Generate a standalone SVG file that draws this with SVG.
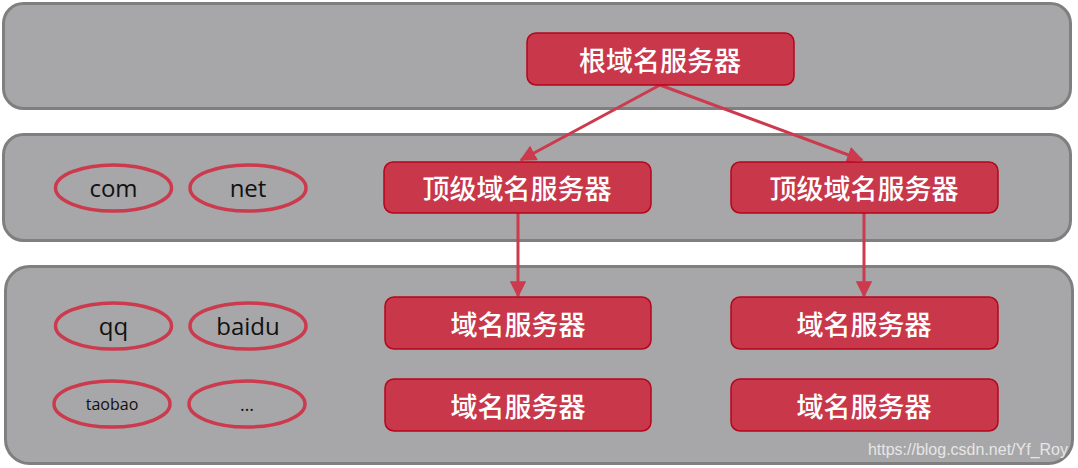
<svg xmlns="http://www.w3.org/2000/svg" width="1078" height="468" viewBox="0 0 1078 468">
<defs>
<style>
.panel{fill:#a7a6a8;stroke:#7f7f7f;stroke-width:3}
.box{fill:#c9374a;stroke:#b5061c;stroke-width:1.5}
.bt{fill:#ffffff;font-family:"Noto Sans CJK SC",sans-serif;font-size:27px;font-weight:500;text-anchor:middle;dominant-baseline:central}
.el{fill:none;stroke:#cc3a4e;stroke-width:3.5}
.et{fill:#111111;font-family:"Open Sans","Noto Sans",sans-serif;font-size:24px;text-anchor:middle;dominant-baseline:central}
.conn{stroke:#cc3a4e;stroke-width:3;fill:none}
</style>
<marker id="ah" viewBox="0 0 10 10" refX="9" refY="5" markerWidth="5.5" markerHeight="5.5" orient="auto" markerUnits="strokeWidth">
<path d="M0,0 L10,5 L0,10 z" fill="#cc3a4e"/>
</marker>
</defs>
<rect width="1078" height="468" fill="#ffffff"/>
<g id="panel-root"><rect class="panel" x="3.5" y="3.5" width="1067" height="105" rx="20"/></g>
<g id="panel-tld"><rect class="panel" x="3.5" y="134.5" width="1067" height="106" rx="20"/></g>
<g id="panel-domain"><rect class="panel" x="5.5" y="266.5" width="1067" height="197" rx="24"/></g>

<g id="connectors">
<line class="conn" x1="660" y1="85" x2="521" y2="160" marker-end="url(#ah)"/>
<line class="conn" x1="660" y1="85" x2="862" y2="160" marker-end="url(#ah)"/>
<line class="conn" x1="518" y1="213" x2="518" y2="296" marker-end="url(#ah)"/>
<line class="conn" x1="864" y1="213" x2="864" y2="296" marker-end="url(#ah)"/>
</g>

<g id="root"><rect class="box" x="527" y="33" width="267" height="52" rx="9"/><text class="bt" x="660" y="59">根域名服务器</text></g>
<g id="tld1"><rect class="box" x="384" y="162" width="267" height="51" rx="9"/><text class="bt" x="517" y="187.5">顶级域名服务器</text></g>
<g id="tld2"><rect class="box" x="731" y="162" width="267" height="51" rx="9"/><text class="bt" x="864" y="187.5">顶级域名服务器</text></g>
<g id="dns1"><rect class="box" x="385" y="297" width="266" height="52" rx="9"/><text class="bt" x="518" y="323">域名服务器</text></g>
<g id="dns2"><rect class="box" x="731" y="297" width="267" height="52" rx="9"/><text class="bt" x="864" y="323">域名服务器</text></g>
<g id="dns3"><rect class="box" x="385" y="379" width="266" height="52" rx="9"/><text class="bt" x="518" y="405">域名服务器</text></g>
<g id="dns4"><rect class="box" x="731" y="379" width="267" height="52" rx="9"/><text class="bt" x="864" y="405">域名服务器</text></g>

<g id="com"><ellipse class="el" cx="113.5" cy="188" rx="58" ry="23"/><text class="et" x="113.5" y="187">com</text></g>
<g id="net"><ellipse class="el" cx="248" cy="188" rx="58" ry="23"/><text class="et" x="248" y="187">net</text></g>
<g id="qq"><ellipse class="el" cx="113.5" cy="326" rx="58" ry="23"/><text class="et" x="113.5" y="325">qq</text></g>
<g id="baidu"><ellipse class="el" cx="248" cy="326" rx="58" ry="23"/><text class="et" x="248" y="325">baidu</text></g>
<g id="taobao"><ellipse class="el" cx="112" cy="404" rx="58" ry="23"/><text class="et" x="112" y="404" style="font-size:16px">taobao</text></g>
<g id="more"><ellipse class="el" cx="247" cy="404" rx="58" ry="23"/><text class="et" x="247" y="404" style="font-size:18px">…</text></g>

<text x="1068" y="455" text-anchor="end" style="fill:#e6e6e6;font-family:'Liberation Sans',Arial,sans-serif;font-size:16px">https://blog.csdn.net/Yf_Roy</text>
</svg>
